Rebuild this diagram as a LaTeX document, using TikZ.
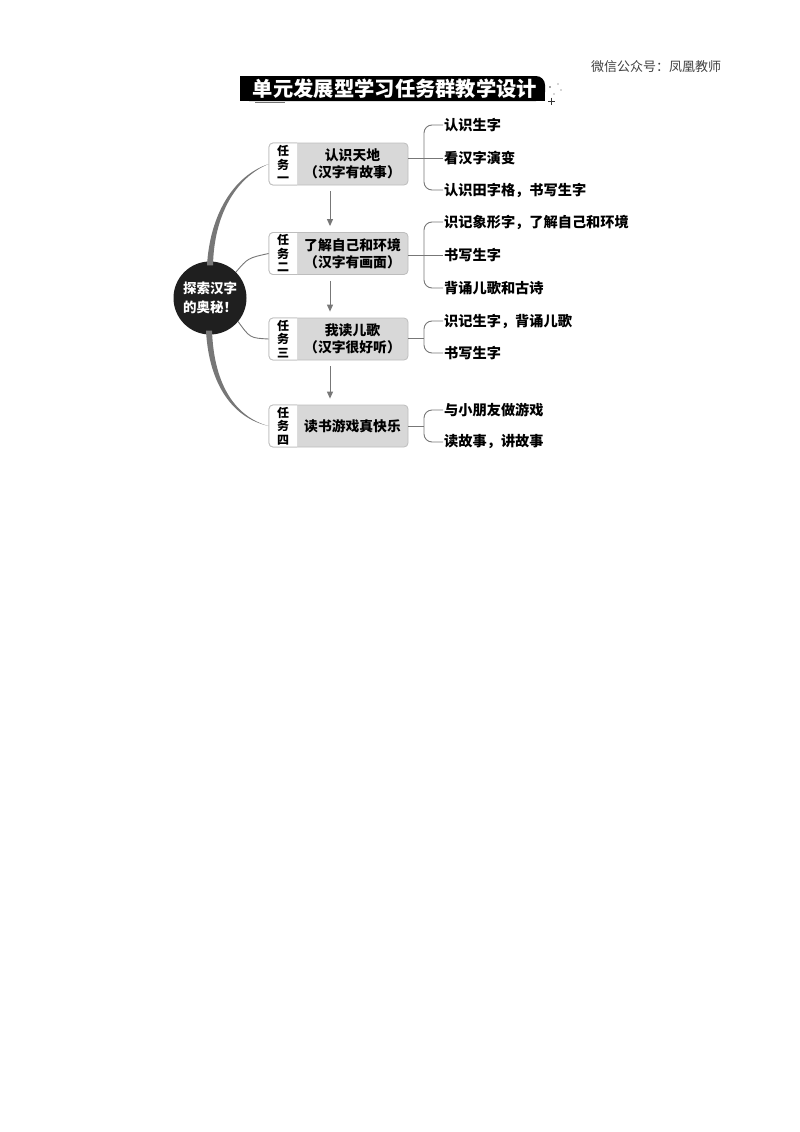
\documentclass[tikz,border=0pt]{standalone}
\usepackage{fontspec}
\setmainfont{Noto Sans CJK SC}
\usetikzlibrary{arrows.meta,calc}
\definecolor{boxgray}{HTML}{D8D8D8}
\definecolor{edgegray}{HTML}{BDBDBD}
\definecolor{linegray}{HTML}{777777}
\newcommand\taskbox[4]{%
  \node[taskrect] (#1) at (338.5,#2) {};
  \begin{scope}
    \clip (260,#2-30) rectangle (297,#2+30);
    \node[taskrect, fill=white] at (338.5,#2) {};
  \end{scope}
  \node[tlabel] (#1l) at (283,#2) {#3};
  \node[gtext] (#1t) at (352.5,#2) {#4};
}
\begin{document}
\begin{tikzpicture}[x=1pt,y=-1pt,
  taskrect/.style={draw=edgegray, fill=boxgray, rounded corners=4pt, minimum width=139pt, minimum height=42pt, inner sep=0pt, line width=0.8pt},
  tlabel/.style={font=\fontsize{12}{13.5}\selectfont\bfseries, align=center, inner sep=0pt},
  gtext/.style={font=\fontsize{13.8}{17}\selectfont\bfseries, align=center, inner sep=0pt},
  item/.style={anchor=west, font=\fontsize{14.2}{16}\selectfont\bfseries, inner sep=1pt},
  conn/.style={draw=linegray, line width=0.9pt},
  bracket/.style={conn, rounded corners=8pt},
  flow/.style={draw=linegray, line width=1pt, -{Triangle[length=7pt,width=6pt]}, shorten <=6pt, shorten >=6pt}
]
\useasboundingbox (0,0) rectangle (800,1132);

% header
\node[font=\fontsize{13}{15}\selectfont, text=black!75] (hdr) at (656,67) {微信公众号：凤凰教师};

% title banner
\fill[black, rounded corners=9pt] (240,76) rectangle (545,101);
\fill[black] (240,76) rectangle (270,101);
\fill[black] (240,90) rectangle (545,101);
\draw[black!55, line width=1.6pt] (255,102.5) -- (285,102.5);
\node[font=\fontsize{20.3}{22}\selectfont\bfseries, text=white] (title) at (395,89) {单元发展型学习任务群教学设计};
\fill[black!70] (550,87) circle (0.8) (558,84) circle (0.7) (561,90) circle (0.7) (554,94) circle (0.6);
\draw[black!80, line width=0.8pt] (548,101) -- (555,101) (551.5,97.5) -- (551.5,104.5);

% task boxes
\taskbox{b1}{164}{任\\务\\一}{认识天地\\（汉字有故事）}
\taskbox{b2}{253.5}{任\\务\\二}{了解自己和环境\\（汉字有画面）}
\taskbox{b3}{339}{任\\务\\三}{我读儿歌\\（汉字很好听）}
\taskbox{b4}{426}{任\\务\\四}{读书游戏真快乐}

% flow arrows
\coordinate (ax) at (330,0);
\draw[flow] (b1.south -| ax) -- (b2.north -| ax);
\draw[flow] (b2.south -| ax) -- (b3.north -| ax);
\draw[flow] (b3.south -| ax) -- (b4.north -| ax);

% central circle
\node[circle, fill=black!88, minimum size=73pt, inner sep=0pt, text=white, align=center,
      font=\fontsize{13.5}{19}\selectfont\bfseries] (c) at (210,298) {探索汉字\\的奥秘！};

% trunks and branches
\fill[linegray] ($(c.north)+(-3,4)$) .. controls (210,215) and (233,176) .. (b1.west)
   .. controls (235,178) and (214,216) .. ($(c.north)+(3,4)$) -- cycle;
\fill[linegray] ($(c.south)+(-4,-4)$) .. controls (209,385) and (233,418) .. (b4.west)
   .. controls (236,417) and (214,386) .. ($(c.south)+(2,-4)$) -- cycle;
\draw[conn] (c.45) .. controls (248,258) .. (b2.west);
\draw[conn] (c.-40) .. controls (250,338) .. (b3.west);

% items group 1
\node[item] (i11) at (443,125) {认识生字};
\node[item] (i12) at (443,158) {看汉字演变};
\node[item] (i13) at (443,190) {认识田字格，书写生字};
\coordinate (k1) at (424,158);
\draw[conn] (i12.west -| b1.east) -- (i12.west);
\draw[bracket] (i11.west) -| (k1) |- (i13.west);

% items group 2
\node[item] (i21) at (443,222) {识记象形字，了解自己和环境};
\node[item] (i22) at (443,255) {书写生字};
\node[item] (i23) at (443,288) {背诵儿歌和古诗};
\coordinate (k2) at (424,255);
\draw[conn] (i22.west -| b2.east) -- (i22.west);
\draw[bracket] (i21.west) -| (k2) |- (i23.west);

% items group 3
\node[item] (i31) at (443,321) {识记生字，背诵儿歌};
\node[item] (i32) at (443,353) {书写生字};
\coordinate (k3) at (424,338);
\draw[conn] (b3.east |- k3) -- (k3);
\draw[bracket] (i31.west) -| (k3) |- (i32.west);

% items group 4
\node[item] (i41) at (443,410) {与小朋友做游戏};
\node[item] (i42) at (443,442) {读故事，讲故事};
\coordinate (k4) at (424,426);
\draw[conn] (b4.east |- k4) -- (k4);
\draw[bracket] (i41.west) -| (k4) |- (i42.west);
\end{tikzpicture}
\end{document}
